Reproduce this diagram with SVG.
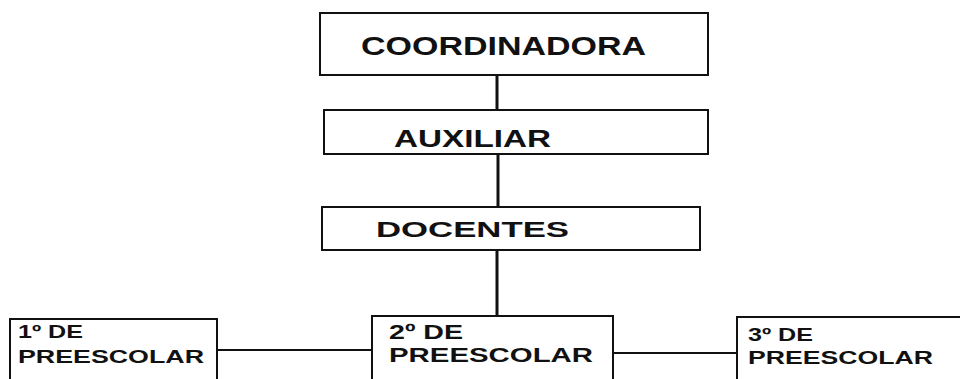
<svg xmlns="http://www.w3.org/2000/svg" width="960" height="379" viewBox="0 0 960 379">
<style>
.box{fill:#fff;stroke:#111;stroke-width:2}
.t{font-family:"Liberation Sans",Arial,sans-serif;font-weight:bold;fill:#111}
.c{stroke:#111;fill:none}
</style>
<rect width="960" height="379" fill="#fff"/>
<g id="connectors">
<line class="c" x1="497" y1="75" x2="497" y2="110" stroke-width="3"/>
<line class="c" x1="498" y1="154" x2="498" y2="207" stroke-width="3"/>
<line class="c" x1="497" y1="250" x2="497" y2="316" stroke-width="3"/>
<line class="c" x1="217" y1="350" x2="372" y2="350" stroke-width="2"/>
<line class="c" x1="613" y1="353" x2="737" y2="353" stroke-width="2"/>
</g>
<g id="coordinadora">
<rect class="box" x="320" y="13" width="388" height="62"/>
<text class="t" x="361" y="55" font-size="25" textLength="285" lengthAdjust="spacingAndGlyphs">COORDINADORA</text>
</g>
<g id="auxiliar">
<rect class="box" x="324" y="110" width="384" height="44"/>
<text class="t" x="394" y="147" font-size="24" textLength="157" lengthAdjust="spacingAndGlyphs">AUXILIAR</text>
</g>
<g id="docentes">
<rect class="box" x="322" y="207" width="378" height="43"/>
<text class="t" x="376" y="237" font-size="22" textLength="193" lengthAdjust="spacingAndGlyphs">DOCENTES</text>
</g>
<g id="primero">
<rect class="box" x="10" y="319" width="207" height="70"/>
<text class="t" x="18" y="338" font-size="19" textLength="65" lengthAdjust="spacingAndGlyphs">1º DE</text>
<text class="t" x="18" y="363" font-size="19" textLength="186" lengthAdjust="spacingAndGlyphs">PREESCOLAR</text>
</g>
<g id="segundo">
<rect class="box" x="372" y="316" width="241" height="73"/>
<text class="t" x="389" y="339" font-size="21" textLength="74" lengthAdjust="spacingAndGlyphs">2º DE</text>
<text class="t" x="389" y="362" font-size="21" textLength="204" lengthAdjust="spacingAndGlyphs">PREESCOLAR</text>
</g>
<g id="tercero">
<rect class="box" x="737" y="317" width="240" height="72"/>
<text class="t" x="748" y="341" font-size="19" textLength="65" lengthAdjust="spacingAndGlyphs">3º DE</text>
<text class="t" x="748" y="364" font-size="19" textLength="185" lengthAdjust="spacingAndGlyphs">PREESCOLAR</text>
</g>
</svg>
